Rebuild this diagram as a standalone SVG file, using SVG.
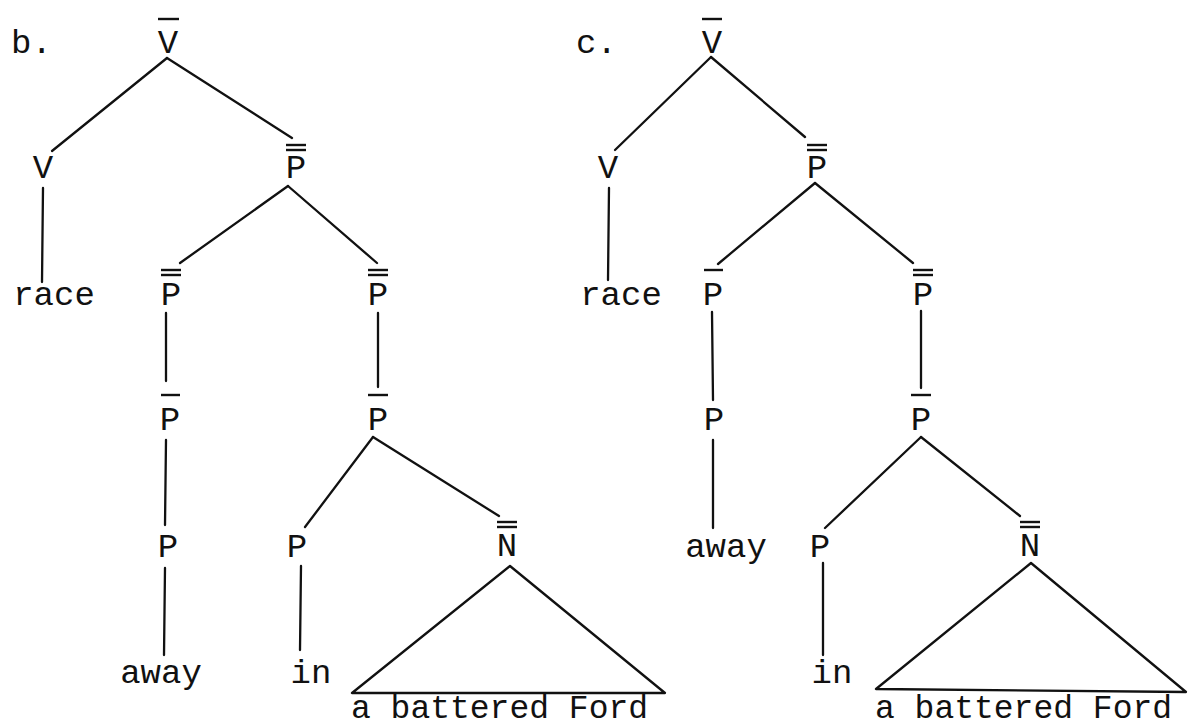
<svg xmlns="http://www.w3.org/2000/svg" width="1188" height="728" viewBox="0 0 1188 728">
<style>
text{font-family:"Liberation Mono","DejaVu Sans Mono",monospace;font-size:34px;fill:#111;}
.m{text-anchor:middle;}
.s{text-anchor:start;}
line,polygon{stroke:#111;stroke-width:2.3;fill:none;stroke-linecap:round;stroke-linejoin:round;}
.bar{stroke-width:2.4;stroke-linecap:butt;}
.ft{font-size:33px;}
</style>
<rect width="1188" height="728" fill="#fff"/>
<g id="labels">
<text id="lbl-b" class="s" x="11" y="53">b.</text>
<text id="lbl-c" class="s" x="576" y="53">c.</text>
</g>
<g id="connectors">
<!-- tree b -->
<line x1="167" y1="58" x2="52" y2="151"/>
<line x1="167" y1="58" x2="292" y2="138"/>
<line x1="43" y1="188" x2="42" y2="282"/>
<line x1="288" y1="186" x2="180" y2="263"/>
<line x1="288" y1="186" x2="377" y2="263"/>
<line x1="166" y1="313" x2="166" y2="381"/>
<line x1="378" y1="313" x2="378" y2="387"/>
<line x1="166" y1="440" x2="165" y2="525"/>
<line x1="165" y1="568" x2="164" y2="655"/>
<line x1="373" y1="437" x2="305" y2="527"/>
<line x1="373" y1="437" x2="499" y2="516"/>
<line x1="301" y1="566" x2="300" y2="650"/>
<!-- tree c -->
<line x1="711" y1="57" x2="615" y2="150"/>
<line x1="711" y1="57" x2="805" y2="137"/>
<line x1="609" y1="188" x2="608" y2="280"/>
<line x1="815" y1="183" x2="718" y2="264"/>
<line x1="815" y1="183" x2="913" y2="263"/>
<line x1="712" y1="312" x2="713" y2="400"/>
<line x1="921" y1="311" x2="921" y2="388"/>
<line x1="713" y1="440" x2="713" y2="528"/>
<line x1="921" y1="437" x2="825" y2="528"/>
<line x1="921" y1="437" x2="1020" y2="516"/>
<line x1="823" y1="563" x2="823" y2="655"/>
</g>
<!-- tree b nodes -->
<g id="b-Vbar"><line class="bar" x1="158" y1="19" x2="179" y2="19"/><text class="m" x="168" y="53">V</text></g>
<g id="b-V"><text class="m" x="43" y="178">V</text></g>
<g id="b-Pbb"><line class="bar" x1="286" y1="145" x2="306" y2="145"/><line class="bar" x1="286" y1="150" x2="306" y2="150"/><text class="m" x="296" y="178">P</text></g>
<g id="b-race"><text class="m" x="54" y="305">race</text></g>
<g id="b-Pbb-left"><line class="bar" x1="161" y1="270" x2="181" y2="270"/><line class="bar" x1="161" y1="275" x2="181" y2="275"/><text class="m" x="171" y="305">P</text></g>
<g id="b-Pbb-right"><line class="bar" x1="368" y1="270" x2="388" y2="270"/><line class="bar" x1="368" y1="275" x2="388" y2="275"/><text class="m" x="378" y="305">P</text></g>
<g id="b-Pbar-left"><line class="bar" x1="161" y1="395" x2="180" y2="395"/><text class="m" x="170" y="430">P</text></g>
<g id="b-Pbar-right"><line class="bar" x1="368" y1="395" x2="388" y2="395"/><text class="m" x="378" y="430">P</text></g>
<g id="b-P-away"><text class="m" x="168" y="557">P</text></g>
<g id="b-P-in"><text class="m" x="297" y="557">P</text></g>
<g id="b-Nbb"><line class="bar" x1="497" y1="522" x2="517" y2="522"/><line class="bar" x1="497" y1="527" x2="517" y2="527"/><text class="m" x="507" y="556">N</text></g>
<g id="b-away"><text class="m" x="161" y="683">away</text></g>
<g id="b-in"><text class="m" x="311" y="683">in</text></g>
<g id="b-NP"><polygon points="510,566 352,693 665,693"/><text class="s ft" x="351" y="718">a battered Ford</text></g>
<!-- tree c nodes -->
<g id="c-Vbar"><line class="bar" x1="702" y1="19" x2="722" y2="19"/><text class="m" x="712" y="53">V</text></g>
<g id="c-V"><text class="m" x="608" y="178">V</text></g>
<g id="c-Pbb"><line class="bar" x1="807" y1="145" x2="827" y2="145"/><line class="bar" x1="807" y1="150" x2="827" y2="150"/><text class="m" x="817" y="178">P</text></g>
<g id="c-race"><text class="m" x="621" y="305">race</text></g>
<g id="c-Pbar-left"><line class="bar" x1="704" y1="270" x2="723" y2="270"/><text class="m" x="713" y="305">P</text></g>
<g id="c-Pbb-right"><line class="bar" x1="913" y1="270" x2="933" y2="270"/><line class="bar" x1="913" y1="275" x2="933" y2="275"/><text class="m" x="923" y="305">P</text></g>
<g id="c-P-away"><text class="m" x="714" y="430">P</text></g>
<g id="c-Pbar-right"><line class="bar" x1="911" y1="395" x2="931" y2="395"/><text class="m" x="921" y="430">P</text></g>
<g id="c-away"><text class="m" x="726" y="557">away</text></g>
<g id="c-P-in"><text class="m" x="820" y="557">P</text></g>
<g id="c-Nbb"><line class="bar" x1="1020" y1="522" x2="1040" y2="522"/><line class="bar" x1="1020" y1="527" x2="1040" y2="527"/><text class="m" x="1030" y="556">N</text></g>
<g id="c-in"><text class="m" x="832" y="683">in</text></g>
<g id="c-NP"><polygon points="1031,563 876,689 1186,692"/><text class="s ft" x="875" y="718">a battered Ford</text></g>
</svg>
